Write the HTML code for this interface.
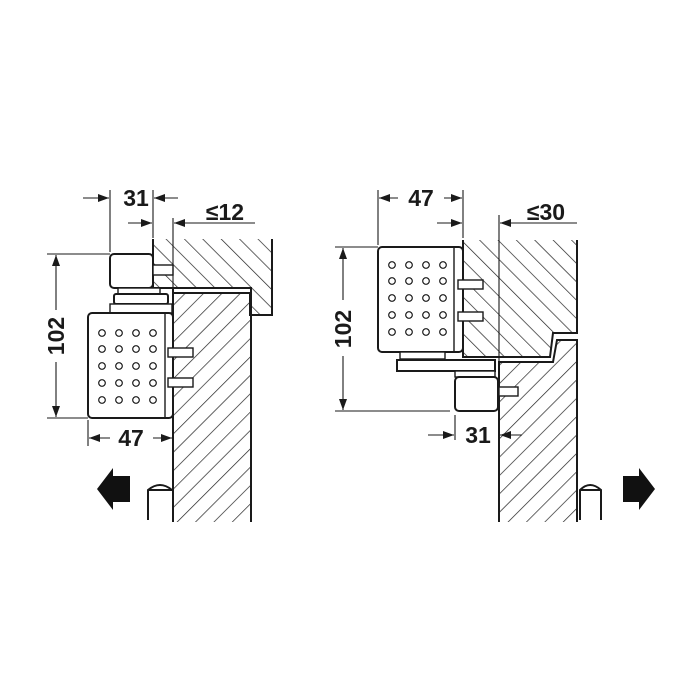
<!DOCTYPE html>
<html><head><style>html,body{margin:0;padding:0;background:#fff}svg{display:block}text{font-family:"Liberation Sans",sans-serif;font-weight:bold;fill:#1a1a1a}</style></head>
<body>
<svg width="700" height="700" viewBox="0 0 700 700" xmlns="http://www.w3.org/2000/svg">
<defs>
<pattern id="hb" patternUnits="userSpaceOnUse" width="13" height="13" patternTransform="rotate(45)"><line x1="0" y1="0" x2="0" y2="13" stroke="#222" stroke-width="1.4"/></pattern>
<pattern id="hf" patternUnits="userSpaceOnUse" width="13" height="13" patternTransform="rotate(-45)"><line x1="0" y1="0" x2="0" y2="13" stroke="#222" stroke-width="1.4"/></pattern>
<marker id="ar" markerWidth="11" markerHeight="8" refX="11" refY="4" orient="auto" markerUnits="userSpaceOnUse"><path d="M0,0 L11,4 L0,8 Z" fill="#1a1a1a"/></marker>
</defs>
<g stroke="#1a1a1a" stroke-width="2" fill="none">
<!-- LEFT -->
<path d="M153,239 L153,288 L250,288 L250,315 L272,315 L272,239" fill="url(#hf)"/>
<rect x="173" y="293" width="78" height="229" fill="url(#hb)" stroke="none"/>
<path d="M173,522 L173,293 L251,293 L251,522"/>
<rect x="173" y="288" width="78" height="5" fill="#fff"/>
<rect x="110" y="254" width="43" height="34" rx="4" fill="#fff"/>
<rect x="153" y="265" width="20" height="10" fill="#fff" stroke-width="1.4"/>
<rect x="118" y="288" width="42" height="6" fill="#fff" stroke-width="1.4"/>
<rect x="114" y="294" width="54" height="10" rx="2" fill="#fff"/>
<rect x="110" y="304" width="62" height="9" fill="#fff" stroke-width="1.4"/>
<rect x="88" y="313" width="85" height="105" rx="4" fill="#fff"/>
<line x1="165" y1="313" x2="165" y2="418" stroke-width="1.4"/>
<rect x="168" y="348" width="25" height="9" fill="#fff" stroke-width="1.4"/>
<rect x="168" y="378" width="25" height="9" fill="#fff" stroke-width="1.4"/>
<path d="M148,520 L148,490 Q160,480 172,490 M148,490 L172,490"/>
<g stroke-width="1.1">
<line x1="47" y1="254" x2="110" y2="254"/><line x1="47" y1="418" x2="88" y2="418"/>
<line x1="56" y1="310" x2="56" y2="255" marker-end="url(#ar)"/><line x1="56" y1="362" x2="56" y2="417" marker-end="url(#ar)"/>
<line x1="110" y1="190" x2="110" y2="252"/><line x1="153" y1="190" x2="153" y2="238"/>
<line x1="83" y1="198" x2="109" y2="198" marker-end="url(#ar)"/><line x1="178" y1="198" x2="154" y2="198" marker-end="url(#ar)"/>
<line x1="173" y1="218" x2="173" y2="288"/>
<line x1="128" y1="223" x2="152" y2="223" marker-end="url(#ar)"/><line x1="255" y1="223" x2="174" y2="223" marker-end="url(#ar)"/>
<line x1="88" y1="420" x2="88" y2="446"/>
<line x1="110" y1="438" x2="89" y2="438" marker-end="url(#ar)"/><line x1="153" y1="438" x2="172" y2="438" marker-end="url(#ar)"/>
</g>
<!-- RIGHT -->
<path d="M463,240 L463,357 L550,357 L553,333 L577,333 L577,240" fill="url(#hf)"/>
<path d="M499,522 L499,362 L553,362 L557,340 L577,340 L577,522" fill="url(#hb)" stroke="none"/>
<path d="M499,522 L499,362 L553,362 L557,340 L577,340 L577,522"/>
<rect x="378" y="247" width="85" height="105" rx="4" fill="#fff"/>
<line x1="454" y1="247" x2="454" y2="352" stroke-width="1.4"/>
<rect x="458" y="280" width="25" height="9" fill="#fff" stroke-width="1.4"/>
<rect x="458" y="312" width="25" height="9" fill="#fff" stroke-width="1.4"/>
<rect x="400" y="352" width="45" height="7" fill="#fff" stroke-width="1.4"/>
<rect x="397" y="360" width="98" height="11" fill="#fff"/>
<rect x="455" y="371" width="40" height="6" fill="#fff" stroke-width="1.4"/>
<rect x="455" y="377" width="43" height="34" rx="4" fill="#fff"/>
<rect x="499" y="387" width="19" height="9" fill="#fff" stroke-width="1.4"/>
<path d="M580,520 L580,490 Q590,480 601,490 L601,520 M580,490 L601,490"/>
<g stroke-width="1.1">
<line x1="335" y1="247" x2="378" y2="247"/><line x1="335" y1="411" x2="450" y2="411"/>
<line x1="343" y1="300" x2="343" y2="248" marker-end="url(#ar)"/><line x1="343" y1="356" x2="343" y2="410" marker-end="url(#ar)"/>
<line x1="378" y1="190" x2="378" y2="245"/><line x1="463" y1="190" x2="463" y2="238"/>
<line x1="398" y1="198" x2="379" y2="198" marker-end="url(#ar)"/><line x1="444" y1="198" x2="462" y2="198" marker-end="url(#ar)"/>
<line x1="437" y1="223" x2="462" y2="223" marker-end="url(#ar)"/><line x1="577" y1="223" x2="500" y2="223" marker-end="url(#ar)"/>
<line x1="499" y1="215" x2="499" y2="362"/>
<line x1="455" y1="415" x2="455" y2="440"/>
<line x1="428" y1="435" x2="454" y2="435" marker-end="url(#ar)"/><line x1="522" y1="435" x2="500" y2="435" marker-end="url(#ar)"/>
</g>
</g>
<g fill="none" stroke="#1a1a1a" stroke-width="1.2">
<g id="dots">
<circle cx="102" cy="333" r="3.3"/><circle cx="119" cy="333" r="3.3"/><circle cx="136" cy="333" r="3.3"/><circle cx="153" cy="333" r="3.3"/>
<circle cx="102" cy="349" r="3.3"/><circle cx="119" cy="349" r="3.3"/><circle cx="136" cy="349" r="3.3"/><circle cx="153" cy="349" r="3.3"/>
<circle cx="102" cy="366" r="3.3"/><circle cx="119" cy="366" r="3.3"/><circle cx="136" cy="366" r="3.3"/><circle cx="153" cy="366" r="3.3"/>
<circle cx="102" cy="383" r="3.3"/><circle cx="119" cy="383" r="3.3"/><circle cx="136" cy="383" r="3.3"/><circle cx="153" cy="383" r="3.3"/>
<circle cx="102" cy="400" r="3.3"/><circle cx="119" cy="400" r="3.3"/><circle cx="136" cy="400" r="3.3"/><circle cx="153" cy="400" r="3.3"/>
</g>
<use href="#dots" transform="translate(290,-68)"/>
</g>
<path d="M97,489 L113,468 L113,476 L130,476 L130,502 L113,502 L113,510 Z" fill="#111"/>
<path d="M655,489 L639,468 L639,476 L623,476 L623,502 L639,502 L639,510 Z" fill="#111"/>
<g font-size="23">
<text x="136" y="206" text-anchor="middle">31</text>
<text x="225" y="220" text-anchor="middle">≤12</text>
<text x="131" y="446" text-anchor="middle">47</text>
<text transform="translate(64,336) rotate(-90)" text-anchor="middle">102</text>
<text x="421" y="206" text-anchor="middle">47</text>
<text x="546" y="220" text-anchor="middle">≤30</text>
<text x="478" y="443" text-anchor="middle">31</text>
<text transform="translate(351,329) rotate(-90)" text-anchor="middle">102</text>
</g>
</svg>
</body></html>
